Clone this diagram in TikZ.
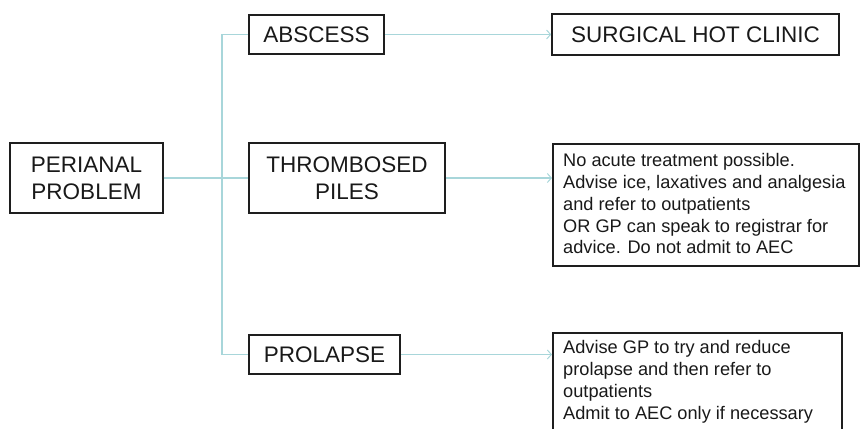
\documentclass[tikz,border=0pt]{standalone}
\usepackage{fontspec}
\setmainfont{Liberation Sans}
\usetikzlibrary{arrows.meta}
\definecolor{connc}{RGB}{168,214,218}
\definecolor{boxc}{RGB}{30,30,30}
\begin{document}
\begin{tikzpicture}[x=1pt,y=-1pt,
  box/.style={draw=boxc, line width=1.6pt, inner sep=0pt, align=center,
    font=\fontsize{22.5}{27}\selectfont, text=black!90},
  notebox/.style={draw=boxc, line width=1.6pt, inner sep=0pt, anchor=north west},
  notetext/.style={inner sep=0pt, align=left, anchor=north west,
    font=\fontsize{18.2}{21.75}\selectfont, text=black!90},
  conn/.style={draw=connc, line width=1.3pt},
  arr/.style={conn, -{Straight Barb[length=4pt,width=9pt,line width=1pt]}}]
\useasboundingbox (0,0) rectangle (861,428);
\clip (0,0) rectangle (861,428);
\node[box, minimum width=153pt, minimum height=70pt] (peri) at (86.5,178) {PERIANAL\\PROBLEM};
\node[box, minimum width=135pt, minimum height=39pt] (abs) at (316.5,34.5) {ABSCESS};
\node[box, minimum width=196pt, minimum height=70pt] (thr) at (347,178) {THROMBOSED\\PILES};
\node[box, minimum width=151pt, minimum height=39pt] (pro) at (324.5,354.5) {PROLAPSE};
\node[box, minimum width=287pt, minimum height=41pt] (shc) at (695.5,34.5) {SURGICAL HOT CLINIC};
\node[notebox, minimum width=306pt, minimum height=122pt] (tt) at (552,143) {};
\node[notetext] (ttx) at (563,153.5) {No acute treatment possible.\\Advise ice, laxatives and analgesia\\and refer to outpatients\\OR GP can speak to registrar for\\advice. Do not admit to AEC};
\node[notebox, minimum width=289pt, minimum height=110pt] (pt) at (552,332) {};
\node[notetext] (ptx) at (563,340.6) {Advise GP to try and reduce\\prolapse and then refer to\\outpatients\\Admit to AEC only if necessary};
\coordinate (j) at (222,178);
\draw[conn] (peri.east) -- (thr.west);
\draw[conn] (abs.west) -| (j) |- (pro.west);
\draw[arr] (abs.east) -- (shc.west);
\draw[arr] (thr.east) -- (thr.east -| tt.west);
\draw[arr] (pro.east) -- (pro.east -| pt.west);
\end{tikzpicture}
\end{document}
